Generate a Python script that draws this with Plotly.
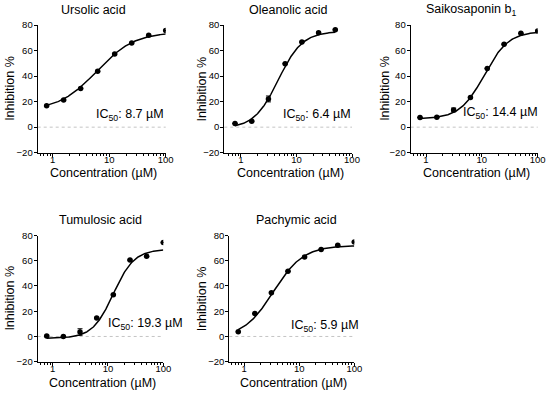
import numpy as np
import plotly.graph_objects as go

# ---------------- data ----------------
conc = [0.78125, 1.5625, 3.125, 6.25, 12.5, 25, 50, 100]
conc_oleanolic = [0.78125, 1.5625, 3.125, 6.25, 12.5, 25, 50]

titles = ["Ursolic acid", "Oleanolic acid", "Saikosaponin b<sub>1</sub>",
          "Tumulosic acid", "Pachymic acid"]

ursolic = [16.7, 21.2, 30.3, 43.7, 57.3, 65.9, 71.9, 75.6]
oleanolic = [2.9, 4.7, 22.1, 49.7, 66.6, 74.0, 76.3]
saikosaponin = [7.6, 7.8, 13.5, 23.3, 46.0, 65.0, 73.5, 75.3]
tumulosic = [0.3, 0.0, 3.5, 14.7, 33.0, 60.5, 63.5, 74.5]
pachymic = [3.7, 18.1, 34.6, 51.7, 63.0, 69.0, 72.2, 74.8]

err_ursolic = [0, 0, 0, 0, 0, 0, 0, 0]
err_oleanolic = [0, 0, 2.3, 0, 0, 0, 0]
err_saikosaponin = [0, 0, 1.5, 0, 0, 0, 0, 0]
err_tumulosic = [0, 0, 2.6, 0, 0, 0, 0, 0]
err_pachymic = [0, 0, 0, 0, 0, 0, 0, 0]

ic50_text = ["8.7", "6.4", "14.4", "19.3", "5.9"]

# four-parameter logistic fit parameters: bottom, top, EC50, hill
fit_bottom = [13.0, -1.0, 6.5, -1.5, -1.0]
fit_top = [74.5, 75.0, 75.0, 69.0, 72.0]
fit_ec50 = [6.0, 4.7, 11.0, 12.5, 3.4]
fit_hill = [1.3, 2.0, 2.0, 2.3, 1.6]

y_ticks = [-20, 0, 20, 40, 60, 80]
x_ticks = [1, 10, 100]
x_ticklabels = ["1", "10", "100"]
x_minor = [0.6, 0.7, 0.8, 0.9, 2, 3, 4, 5, 6, 7, 8, 9,
           20, 30, 40, 50, 60, 70, 80, 90]

series_x = [conc, conc_oleanolic, conc, conc, conc]
series_y = [ursolic, oleanolic, saikosaponin, tumulosic, pachymic]
series_err = [err_ursolic, err_oleanolic, err_saikosaponin, err_tumulosic, err_pachymic]

# ---------------- layout geometry (pixels) ----------------
W, H = 550, 395
panels = [(37.7, 165.7, 25, 152.7), (224.3, 352, 25, 152.7), (410.7, 537.7, 25, 152.7),
          (37.7, 163.3, 235.5, 361.7), (229.3, 354.3, 235.5, 361.7)]
x_left = [-0.265, -0.30, -0.274, -0.27, -0.27]
title_pos = [(93.4, 10), (288, 10), (471, 10), (100.5, 220), (296, 220)]
ic50_pos = [(166, 115), (353, 115), (540, 113), (185, 324), (360.7, 326)]
ytitle_x = [10, 201.7, 385, 10, 201.7]
xtitle_y = [172.7, 172.7, 173, 382.7, 382.7]


def px(x):
    return x / W


def py(y):
    return 1 - y / H


FONT = "Liberation Sans, Arial, Helvetica, sans-serif"

fig = go.Figure()
layout = dict(width=W, height=H, margin=dict(l=0, r=0, t=0, b=0, pad=0),
              paper_bgcolor="white", plot_bgcolor="white", showlegend=False,
              font=dict(family=FONT, color="black"))
annotations = []
shapes = []

for i in range(5):
    sfx = "" if i == 0 else str(i + 1)
    xa, ya = "x" + sfx, "y" + sfx
    x0, x1, yt, yb = panels[i]
    xs = series_x[i]

    # fitted curve
    cx = np.logspace(np.log10(min(xs)), np.log10(max(xs)), 200)
    cy = fit_bottom[i] + (fit_top[i] - fit_bottom[i]) / (1 + (fit_ec50[i] / cx) ** fit_hill[i])
    fig.add_trace(go.Scatter(x=cx, y=cy, mode="lines", xaxis=xa, yaxis=ya,
                             line=dict(color="black", width=1.5), hoverinfo="skip"))
    # data points
    fig.add_trace(go.Scatter(x=xs, y=series_y[i], mode="markers", xaxis=xa, yaxis=ya,
                             marker=dict(color="black", size=5.5),
                             error_y=dict(type="data", array=series_err[i], visible=True,
                                          color="black", thickness=1, width=2.5)))

    layout["xaxis" + sfx] = dict(
        domain=[px(x0), px(x1)], anchor=ya, type="log", range=[x_left[i], 2],
        tickmode="array", tickvals=x_ticks, ticktext=x_ticklabels,
        ticks="outside", ticklen=3.5, tickwidth=1, tickcolor="black",
        tickfont=dict(size=9.5, family=FONT), showline=True, linecolor="black",
        linewidth=1.2, showgrid=False, zeroline=False, automargin=False,
        ticklabelstandoff=-6,
        minor=dict(tickmode="array", tickvals=x_minor, ticks="outside",
                   ticklen=2, tickwidth=0.8, tickcolor="black", showgrid=False))
    layout["yaxis" + sfx] = dict(
        domain=[py(yb), py(yt)], anchor=xa, range=[-20, 80],
        tickmode="array", tickvals=y_ticks, ticks="outside", ticklen=3,
        tickwidth=1, tickcolor="black", tickfont=dict(size=9.5, family=FONT),
        showline=True, linecolor="black", linewidth=1.2, showgrid=False,
        zeroline=False, automargin=False, ticklabelstandoff=-1)

    # dotted zero line
    shapes.append(dict(type="line", xref=xa + " domain", x0=0, x1=1, yref=ya, y0=0, y1=0,
                       line=dict(color="#c4c4c4", width=1, dash="dot"), layer="below"))

    # title
    annotations.append(dict(text=titles[i], x=px(title_pos[i][0]), y=py(title_pos[i][1]),
                            xref="paper", yref="paper", showarrow=False,
                            xanchor="center", yanchor="middle",
                            font=dict(size=12.5, family=FONT)))
    # IC50
    annotations.append(dict(text="IC<sub>50</sub>: " + ic50_text[i] + " µM",
                            x=px(ic50_pos[i][0]), y=py(ic50_pos[i][1]),
                            xref="paper", yref="paper", showarrow=False,
                            xanchor="right", yanchor="middle",
                            font=dict(size=12.5, family=FONT)))
    # y title
    annotations.append(dict(text="Inhibition %", x=px(ytitle_x[i]), y=py((yt + yb) / 2),
                            xref="paper", yref="paper", showarrow=False, textangle=-90,
                            xanchor="center", yanchor="middle",
                            font=dict(size=12.5, family=FONT)))
    # x title
    annotations.append(dict(text="Concentration (µM)", x=px((x0 + x1) / 2 + 2), y=py(xtitle_y[i]),
                            xref="paper", yref="paper", showarrow=False,
                            xanchor="center", yanchor="middle",
                            font=dict(size=12.5, family=FONT)))

layout["annotations"] = annotations
layout["shapes"] = shapes
fig.update_layout(**layout)
fig.write_html("out.html", config={"displayModeBar": False},
               post_script="document.body.style.margin='0px';document.body.style.overflow='hidden';")
